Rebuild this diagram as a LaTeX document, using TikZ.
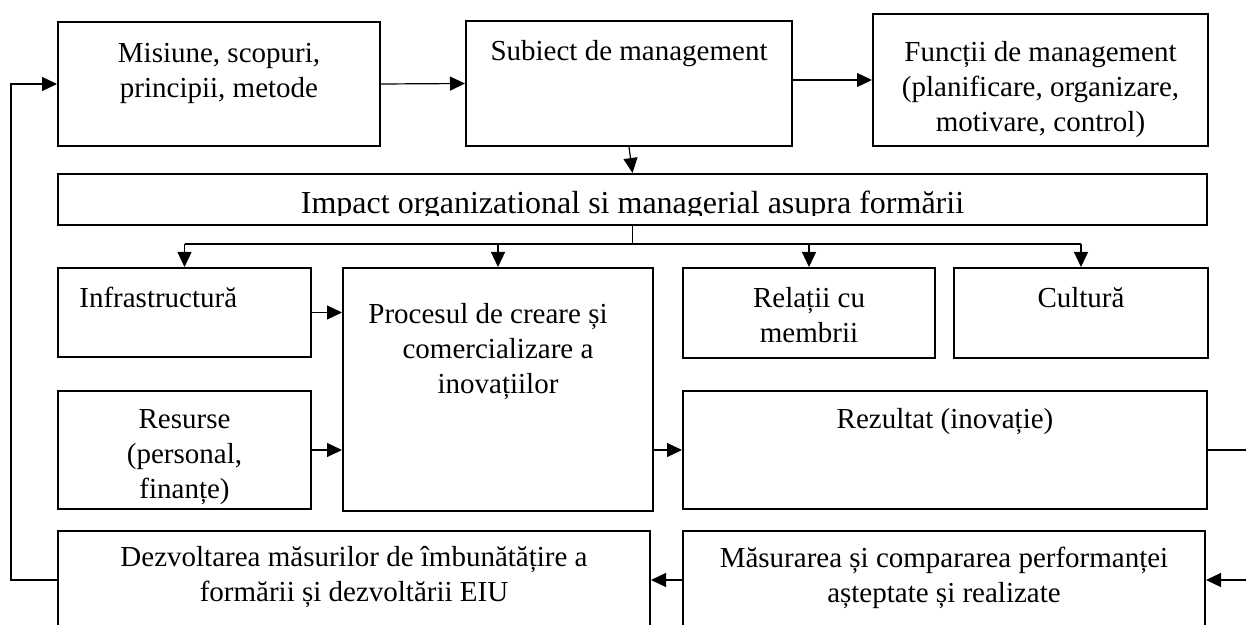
\documentclass[tikz,border=0pt]{standalone}
\usepackage{fontspec}
\setmainfont{Liberation Serif}
\usetikzlibrary{arrows.meta,fit}
\newcommand{\fs}{\fontsize{14.5}{17.5}\selectfont}
\newcommand{\fb}{\fontsize{16}{19}\selectfont}
\begin{document}
\begin{tikzpicture}[x=0.5pt,y=-0.5pt,
  box/.style={draw=black,line width=1pt,inner sep=0pt},
  txt/.style={font=\fs,align=center,inner sep=0pt,anchor=north},
  conn/.style={draw=black,line width=0.6pt},
  arr/.style={conn,-{Triangle[length=7.5pt,width=7pt]}}]
\useasboundingbox (0,0) rectangle (1246,625);
\clip (0,0) rectangle (1246,625);
% boxes
\node[box,fit={(58,22) (380,146)}] (mis) {};
\node[box,fit={(466,21) (792,146)}] (sub) {};
\node[box,fit={(873,14) (1208,146)}] (fun) {};
\node[box,fit={(58,174) (1207,225)}] (imp) {};
\node[box,fit={(58,268) (311,357)}] (inf) {};
\node[box,fit={(343,268) (653,511)}] (pro) {};
\node[box,fit={(683,268) (935,358)}] (rel) {};
\node[box,fit={(954,268) (1208,358)}] (cul) {};
\node[box,fit={(58,391) (311,509)}] (res) {};
\node[box,fit={(683,391) (1207,509)}] (rez) {};
\node[box,fit={(58,531) (650,629)}] (dez) {};
\node[box,fit={(683,531) (1205,629)}] (mas) {};
% texts
\node[txt] (tmis) at (219,37.5) {\strut Misiune, scopuri,\\\strut principii, metode};
\node[txt] (tsub) at (629,35.5) {\strut Subiect de management};
\node[txt] (tfun) at (1040.5,36.5) {\strut Funcții de management\\\strut (planificare, organizare,\\\strut motivare, control)};
\begin{scope}
\clip (58,174) rectangle (1207,215.5);
\node[font=\fb,inner sep=0pt,anchor=base] (timp) at (632.5,214) {Impact organizational si managerial asupra formării};
\end{scope}
\node[font=\fs,inner sep=0pt,anchor=base west] (tinf) at (79,308) {Infrastructură};
\node[txt] (tpro) at (498,298.5) {\strut Procesul de creare și\hspace*{10pt}\\\strut comercializare a\\\strut inovațiilor};
\node[txt] (trel) at (809,282.5) {\strut Relații cu\\\strut membrii};
\node[txt] (tcul) at (1081,282.5) {\strut Cultură};
\node[txt] (tres) at (184.5,403.5) {\strut Resurse\\\strut (personal,\\\strut finanțe)};
\node[txt] (trez) at (945,403.5) {\strut Rezultat (inovație)};
\node[txt] (tdez) at (354,541.5) {\strut Dezvoltarea măsurilor de îmbunătățire a\\\strut formării și dezvoltării EIU};
\node[txt] (tmas) at (944,542.5) {\strut Măsurarea și compararea performanței\\\strut așteptate și realizate};
% connectors
\coordinate (br) at (633,244);
\coordinate (rt) at (1258,450);
\coordinate (fb) at (11,84);
\draw[arr] (mis.east) -- (sub.west);
\draw[arr] (sub.east |- fun.west) -- (fun.west);
\draw[arr] (sub.south) -- (imp.north);
\draw[conn] (imp.south) -- (imp.south |- br);
\draw[conn] (inf.north |- br) -- (cul.north |- br);
\draw[arr] (inf.north |- br) -- (inf.north);
\draw[arr] (pro.north |- br) -- (pro.north);
\draw[arr] (rel.north |- br) -- (rel.north);
\draw[arr] (cul.north |- br) -- (cul.north);
\draw[arr] (inf.east) -- (inf.east -| pro.west);
\draw[arr] (res.east) -- (res.east -| pro.west);
\draw[arr] (pro.east |- rez.west) -- (rez.west);
\draw[arr] (rez.east) -- (rt) |- (mas.east);
\draw[arr] (mas.west) -- (dez.east);
\draw[arr] (dez.west) -| (fb) -- (mis.west);
\end{tikzpicture}
\end{document}
